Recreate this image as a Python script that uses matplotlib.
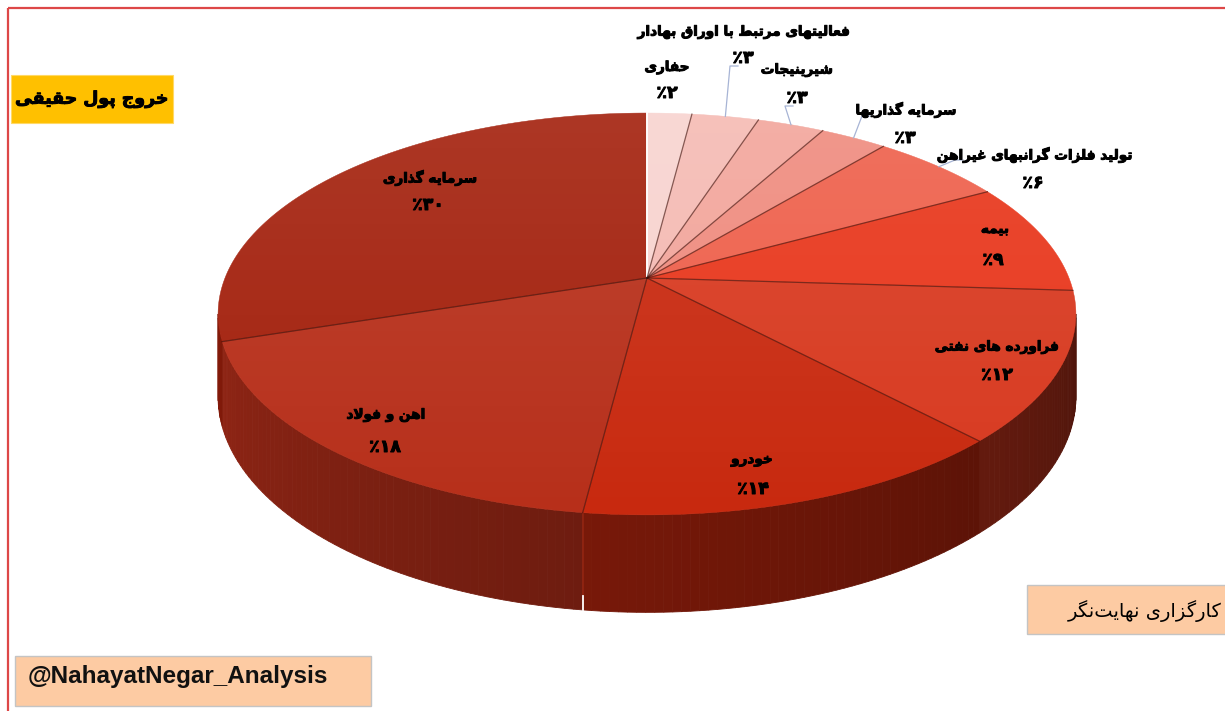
import numpy as np
import matplotlib
matplotlib.use("Agg")
import matplotlib.pyplot as plt
import matplotlib.patheffects as pe
from matplotlib.patches import Polygon, Rectangle

plt.rcParams['font.family'] = ['DejaVu Sans']

# === data ===
sectors = ["حفاری", "فعالیتهای مرتبط با اوراق بهادار", "شیرینیجات", "سرمایه گذاریها",
           "تولید فلزات گرانبهای غیراهن", "بیمه", "فراورده های نفتی", "خودرو",
           "اهن و فولاد", "سرمایه گذاری"]
shares = [2, 3, 3, 3, 6, 9, 12, 14, 18, 30]
colors = ["#F8D3CF", "#F5BAB3", "#F2A59B", "#EF8B7E", "#EE5F4A",
          "#E8361B", "#D8391F", "#C8290F", "#B72F1A", "#A3200C"]
title = "خروج پول حقیقی"
broker = "کارگزاری نهایت\u200cنگر"
handle = "@NahayatNegar_Analysis"

# label layout (pixel positions: name, percent, leader elbow)
name_xy = [(667, 67), (744, 32), (797, 70), (906, 110), (1035, 155),
           (995, 229), (997, 347), (752, 460), (386, 415), (430, 178)]
pct_xy = [(667, 93), (743, 58), (797, 98), (905, 138), (1033, 183),
          (993, 260), (997, 375), (753, 489), (385, 447), (428, 205)]
leader = [None, (730, 66), (785, 106), (862, 116), (955, 160),
          None, None, None, None, None]

# === tiny arabic shaper (matplotlib has no RTL shaping) ===
FORMS = {
    'ا': ('\uFE8D', '\uFE8E', None, None),
    'ب': ('\uFE8F', '\uFE90', '\uFE91', '\uFE92'),
    'پ': ('\uFB56', '\uFB57', '\uFB58', '\uFB59'),
    'ت': ('\uFE95', '\uFE96', '\uFE97', '\uFE98'),
    'ج': ('\uFE9D', '\uFE9E', '\uFE9F', '\uFEA0'),
    'ح': ('\uFEA1', '\uFEA2', '\uFEA3', '\uFEA4'),
    'خ': ('\uFEA5', '\uFEA6', '\uFEA7', '\uFEA8'),
    'د': ('\uFEA9', '\uFEAA', None, None),
    'ذ': ('\uFEAB', '\uFEAC', None, None),
    'ر': ('\uFEAD', '\uFEAE', None, None),
    'ز': ('\uFEAF', '\uFEB0', None, None),
    'س': ('\uFEB1', '\uFEB2', '\uFEB3', '\uFEB4'),
    'ش': ('\uFEB5', '\uFEB6', '\uFEB7', '\uFEB8'),
    'ط': ('\uFEC1', '\uFEC2', '\uFEC3', '\uFEC4'),
    'ع': ('\uFEC9', '\uFECA', '\uFECB', '\uFECC'),
    'غ': ('\uFECD', '\uFECE', '\uFECF', '\uFED0'),
    'ف': ('\uFED1', '\uFED2', '\uFED3', '\uFED4'),
    'ق': ('\uFED5', '\uFED6', '\uFED7', '\uFED8'),
    'ک': ('\uFB8E', '\uFB8F', '\uFB90', '\uFB91'),
    'گ': ('\uFB92', '\uFB93', '\uFB94', '\uFB95'),
    'ل': ('\uFEDD', '\uFEDE', '\uFEDF', '\uFEE0'),
    'م': ('\uFEE1', '\uFEE2', '\uFEE3', '\uFEE4'),
    'ن': ('\uFEE5', '\uFEE6', '\uFEE7', '\uFEE8'),
    'ه': ('\uFEE9', '\uFEEA', '\uFEEB', '\uFEEC'),
    'و': ('\uFEED', '\uFEEE', None, None),
    'ی': ('\uFBFC', '\uFBFD', '\uFBFE', '\uFBFF'),
}


def joins_next(c):
    return c in FORMS and FORMS[c][2] is not None


def shape(s):
    out = []
    i = 0
    while i < len(s):
        c = s[i]
        if c not in FORMS:
            if c != '\u200c':
                out.append(c)
            i += 1
            continue
        link_prev = i > 0 and joins_next(s[i - 1])
        if c == 'ل' and i + 1 < len(s) and s[i + 1] == 'ا':
            out.append('\uFEFC' if link_prev else '\uFEFB')
            i += 2
            continue
        link_next = joins_next(c) and i + 1 < len(s) and s[i + 1] in FORMS
        iso, fin, ini, med = FORMS[c]
        if link_prev and link_next:
            out.append(med)
        elif link_prev:
            out.append(fin)
        elif link_next:
            out.append(ini)
        else:
            out.append(iso)
        i += 1
    return ''.join(reversed(out))


fa_digits = str.maketrans('0123456789', '۰۱۲۳۴۵۶۷۸۹')
heavy = [pe.withStroke(linewidth=0.7, foreground='black')]

# === 3D pie projection (pixel space) ===
CX, CY = 647, 278
RX, RY = 422, 194.5
K = 0.179
DEPTH = 80


def proj(theta, drop=0.0):
    t = np.radians(theta)
    X, Y = np.sin(t), np.cos(t)
    w = 1 + K * Y
    return CX + RX * X / w, CY - RY * Y / w + drop * DEPTH / w


def darken(c, f):
    rgb = np.array(matplotlib.colors.to_rgb(c))
    return tuple(np.clip(rgb * f, 0, 1))


bounds = np.concatenate([[0], np.cumsum(shares)]) / sum(shares) * 360
th_r = np.degrees(np.arccos(-K))
th_l = 360 - th_r

fig = plt.figure(figsize=(12.25, 7.11), dpi=100)
ax = fig.add_axes([0, 0, 1, 1])
ax.set_xlim(0, 1225)
ax.set_ylim(711, 0)
ax.axis('off')

# side walls, drawn as shaded strips
for a0, a1, col in zip(bounds[:-1], bounds[1:], colors):
    lo, hi = max(a0, th_r), min(a1, th_l)
    if hi <= lo:
        continue
    n = max(2, int((hi - lo) / 1.0) + 1)
    edges = np.linspace(lo, hi, n)
    for e0, e1 in zip(edges[:-1], edges[1:]):
        tx, ty = proj(np.array([e0, e1]))
        bx, by = proj(np.array([e1, e0]), 1)
        shade = 0.36 + 0.44 * ((e0 + e1) / 2 - 100) / 160
        c = darken(col, shade)
        ax.add_patch(Polygon(np.column_stack([np.r_[tx, bx], np.r_[ty, by]]),
                             closed=True, fc=c, ec=c, lw=0.6, zorder=2))

# crack on the front wall (the boundary closest to the front)
front = bounds[np.argmin(np.abs(bounds - 180))]
x0, y0 = proj(front)
x1, y1 = proj(front, 1)
ax.plot([x0, x1], [y0, y1], color="#962612", lw=1.1, zorder=3)
ax.plot([x1, x1], [y1 - 14, y1 + 1], color="white", lw=1.3, zorder=3)

# top faces
for a0, a1, col in zip(bounds[:-1], bounds[1:], colors):
    arc = np.linspace(a0, a1, max(3, int(a1 - a0) + 2))
    ux, uy = proj(arc)
    pts = np.column_stack([np.r_[CX, ux], np.r_[CY, uy]])
    ax.add_patch(Polygon(pts, closed=True, fc=col, ec=col, lw=0.3, zorder=4))

# soft light on the top surface
ox, oy = proj(np.linspace(0, 360, 361))
outline = Polygon(np.column_stack([ox, oy]), closed=True, fc='none', ec='none',
                  transform=ax.transData)
ax.add_patch(outline)
grad = np.zeros((100, 2, 4))
grad[..., :3] = 1.0
grad[..., 3] = np.linspace(0.11, 0.0, 100)[:, None]
im = ax.imshow(grad, extent=(200, 1100, 530, 100), aspect='auto', zorder=5,
               interpolation='bilinear')
im.set_clip_path(outline)
ax.set_xlim(0, 1225)
ax.set_ylim(711, 0)

# slice boundaries on top
for j, b in enumerate(bounds[:-1]):
    ex, ey = proj(b)
    if j == 0:
        ax.plot([CX, ex], [CY, ey], color="white", lw=1.4, zorder=6)
    else:
        ax.plot([CX, ex], [CY, ey], color="#3A0E08", lw=0.9, alpha=0.6, zorder=6)

# labels
for k_, (nm, v) in enumerate(zip(sectors, shares)):
    nx, ny = name_xy[k_]
    px, py = pct_xy[k_]
    ax.text(nx, ny, shape(nm), ha='center', va='center', fontsize=9.8,
            fontweight='bold', color='black', zorder=8, path_effects=heavy)
    ax.text(px, py, '٪' + str(v).translate(fa_digits), ha='center', va='center',
            fontsize=12.5, fontweight='bold', color='black', zorder=8,
            path_effects=heavy)
    if leader[k_] is not None:
        mid = (bounds[k_] + bounds[k_ + 1]) / 2
        sx, sy = proj(mid)
        ex, ey = leader[k_]
        ax.plot([sx, ex, ex + 8], [sy, ey, ey], color="#A7B4D5", lw=0.9, zorder=7)

# title box
ax.add_patch(Rectangle((11, 75), 162, 48, fc="#FFC000", ec="#FFD966", lw=0.8, zorder=8))
ax.text(92, 99, shape(title), ha='center', va='center', fontsize=12.5,
        fontweight='bold', color='black', zorder=9, path_effects=heavy)

# broker box
ax.add_patch(Rectangle((1027, 585), 210, 49, fc="#FDCBA3", ec="#C4C4C4", lw=1.0, zorder=8))
ax.text(1222, 611, shape(broker), ha='right', va='center', fontsize=14,
        color='black', zorder=9)

# handle box
ax.add_patch(Rectangle((15, 656), 356, 50, fc="#FDCBA3", ec="#C4C4C4", lw=1.0, zorder=8))
ax.text(28, 677, handle, ha='left', va='center', fontsize=17.5, fontweight='bold',
        family='Liberation Sans', color='#111111', zorder=9)

# frame lines
ax.plot([8, 1225], [8, 8], color="#DD4747", lw=1.6, zorder=10, solid_capstyle='butt')
ax.plot([8, 8], [8, 711], color="#DD4747", lw=1.6, zorder=10, solid_capstyle='butt')

fig.savefig("out.png", dpi=100)
